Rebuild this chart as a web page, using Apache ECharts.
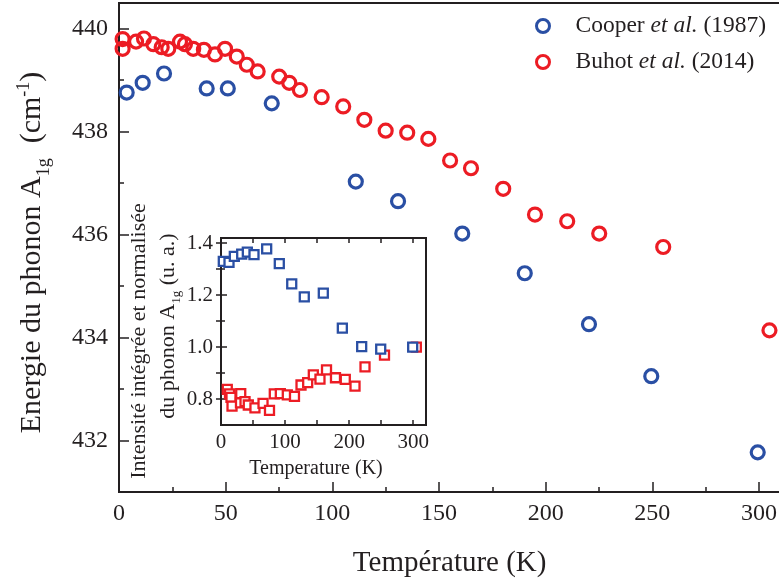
<!DOCTYPE html>
<html>
<head>
<meta charset="utf-8">
<script src="https://cdn.jsdelivr.net/npm/echarts@6/dist/echarts.min.js"></script>
<style>
  html, body { margin: 0; padding: 0; background: #fff; }
  #chart { width: 779px; height: 582px; }
</style>
</head>
<body>
<div id="chart"></div>
<script>
// ---- Main panel data (Energy of A1g phonon, cm^-1) ----
const cooperT = [3.6, 11.1, 21.1, 41.1, 51.0, 71.6, 111.0, 130.8, 160.9, 190.2, 220.3, 249.5, 299.4];
const cooperE = [438.76, 438.95, 439.13, 438.84, 438.84, 438.55, 437.03, 436.65, 436.02, 435.25, 434.26, 433.25, 431.77];

const buhotT = [1.7, 1.7, 8.0, 11.7, 16.1, 20.0, 23.1, 28.6, 30.9, 34.8, 39.8, 45.0, 49.7, 55.2, 59.9, 65.0,
                75.1, 79.8, 84.8, 95.0, 105.1, 115.0, 125.0, 135.1, 145.0, 155.2, 165.0, 180.1, 195.0, 210.1, 225.1, 255.1, 304.9];
const buhotE = [439.80, 439.61, 439.75, 439.81, 439.70, 439.64, 439.61, 439.75, 439.70, 439.61, 439.59, 439.50, 439.61, 439.46, 439.30, 439.17,
                439.07, 438.95, 438.81, 438.67, 438.49, 438.23, 438.02, 437.98, 437.86, 437.44, 437.29, 436.89, 436.39, 436.26, 436.02, 435.76, 434.14];

// ---- Inset data (normalised integrated intensity, a.u.) ----
const cooperInsetT = [3.6, 12.5, 20.8, 32.3, 41.1, 51.5, 71.3, 91.0, 110.4, 130.0, 159.7, 189.4, 219.6, 249.3, 299.2];
const cooperInsetI = [1.330, 1.326, 1.349, 1.358, 1.366, 1.356, 1.378, 1.321, 1.243, 1.193, 1.208, 1.073, 1.002, 0.992, 1.000];

const buhotInsetT = [9.8, 13.3, 15.6, 17.2, 30.8, 30.4, 37.5, 42.6, 53.0, 65.6, 75.7, 83.2, 92.6, 103.5, 114.7, 124.9,
                     135.3, 144.1, 154.5, 164.7, 178.7, 194.0, 209.2, 224.8, 255.2, 304.9];
const buhotInsetI = [0.837, 0.820, 0.806, 0.773, 0.821, 0.785, 0.790, 0.777, 0.766, 0.783, 0.756, 0.820, 0.821, 0.816, 0.810, 0.854,
                     0.863, 0.893, 0.877, 0.912, 0.882, 0.876, 0.850, 0.924, 0.969, 1.000];

// ---- Tick values ----
const mainXTicks = [0, 50, 100, 150, 200, 250, 300];
const mainXMinor = [25, 75, 125, 175, 225, 275];
const mainYTicks = [432, 434, 436, 438, 440];
const mainYMinor = [433, 435, 437, 439];
const insetXLabels = [0, 100, 200, 300];
const insetXTicks = [50, 100, 150, 200, 250, 300];
const insetYTicks = [0.8, 1.0, 1.2, 1.4];
const insetYMinor = [0.9, 1.1, 1.3];

const legendNames = ['Cooper', 'Buhot'];
const legendYears = ['(1987)', '(2014)'];

const BLUE = '#2a4fa4';
const RED = '#ec1c24';
const INK = '#231f20';
const FONT = 'Liberation Serif';

function zip(a, b) { return a.map((v, i) => [v, b[i]]); }

const chart = echarts.init(document.getElementById('chart'), null, { renderer: 'canvas' });

const lineStyle = { color: INK, width: 2 };
const tickStyle = { color: INK, width: 1.5 };

function tickOnlyAxis(extra) {
  return Object.assign({
    type: 'value',
    axisLine: { show: false },
    axisLabel: { show: false },
    splitLine: { show: false },
  }, extra);
}

const option = {
  animation: false,
  backgroundColor: '#fff',
  grid: [
    { left: 119, top: 3, width: 661.33, height: 489, show: true, borderColor: INK, borderWidth: 2,
      backgroundColor: 'rgba(0,0,0,0)', containLabel: false, outerBoundsMode: 'none' },
    { left: 221, top: 238, width: 205, height: 187, show: true, borderColor: INK, borderWidth: 2,
      backgroundColor: '#fff', containLabel: false, outerBoundsMode: 'none' }
  ],
  legend: {
    orient: 'vertical',
    left: 535,
    top: 14,
    padding: 0,
    itemWidth: 13,
    itemHeight: 13,
    itemGap: 12,
    selectedMode: false,
    data: [
      { name: 'Cooper', icon: 'circle', itemStyle: { color: 'rgba(0,0,0,0)', borderColor: BLUE, borderWidth: 3, opacity: 1 } },
      { name: 'Buhot', icon: 'circle', itemStyle: { color: 'rgba(0,0,0,0)', borderColor: RED, borderWidth: 3, opacity: 1 } }
    ],
    formatter: function (name) {
      const i = legendNames.indexOf(name);
      return '{g|}{n|' + name + ' }{i|et al.}{n| ' + legendYears[i] + '}';
    },
    textStyle: {
      fontFamily: FONT, fontSize: 23.5, color: INK,
      rich: {
        g: { width: 21 },
        n: { fontFamily: FONT, fontSize: 23.5, color: INK, lineHeight: 24 },
        i: { fontFamily: FONT, fontSize: 23.5, color: INK, fontStyle: 'italic', lineHeight: 24 }
      }
    }
  },
  xAxis: [
    { // main x, major
      gridIndex: 0, type: 'value', position: 'bottom', min: 0, max: 310,
      axisLine: { show: true, onZero: false, lineStyle: lineStyle },
      axisTick: { show: true, inside: true, length: 10, customValues: mainXTicks, lineStyle: tickStyle },
      axisLabel: { show: true, customValues: mainXTicks, margin: 10, fontFamily: FONT, fontSize: 24, color: INK },
      splitLine: { show: false },
      name: 'Température (K)', nameLocation: 'middle', nameGap: 57,
      nameTextStyle: { fontFamily: FONT, fontSize: 29, color: INK }
    },
    tickOnlyAxis({ // main x, minor
      gridIndex: 0, position: 'bottom', min: 0, max: 310,
      axisTick: { show: true, inside: true, length: 5, customValues: mainXMinor, lineStyle: tickStyle }
    }),
    { // inset x
      gridIndex: 1, type: 'value', position: 'bottom', min: 0, max: 320,
      axisLine: { show: true, onZero: false, lineStyle: lineStyle },
      axisTick: { show: true, inside: true, length: 5, customValues: insetXTicks, lineStyle: tickStyle },
      axisLabel: { show: true, customValues: insetXLabels, margin: 7, fontFamily: FONT, fontSize: 21, color: INK },
      splitLine: { show: false },
      name: 'Temperature (K)', nameLocation: 'middle', nameGap: 34,
      nameTextStyle: { fontFamily: FONT, fontSize: 20, color: INK, padding: [0, 15, 0, 0] }
    },
    tickOnlyAxis({ // inset top ticks
      gridIndex: 1, position: 'top', min: 0, max: 320,
      axisTick: { show: true, inside: true, length: 5, customValues: insetXTicks, lineStyle: tickStyle }
    })
  ],
  yAxis: [
    { // main y, major
      gridIndex: 0, type: 'value', position: 'left', min: 431, max: 440.5,
      axisLine: { show: true, onZero: false, lineStyle: lineStyle },
      axisTick: { show: true, inside: true, length: 10, customValues: mainYTicks, lineStyle: tickStyle },
      axisLabel: { show: true, customValues: mainYTicks, margin: 11, fontFamily: FONT, fontSize: 24, color: INK },
      splitLine: { show: false },
      name: '{a|Energie du phonon A}{s|1g}{a|  (cm}{p|-1}{a|)}',
      nameLocation: 'middle', nameGap: 66,
      nameTextStyle: {
        fontFamily: FONT, fontSize: 30, color: INK, padding: [0, 10, 0, 0],
        rich: {
          a: { fontFamily: FONT, fontSize: 30, color: INK, lineHeight: 42 },
          s: { fontFamily: FONT, fontSize: 18, color: INK, lineHeight: 18, verticalAlign: 'bottom' },
          p: { fontFamily: FONT, fontSize: 18, color: INK, lineHeight: 18, verticalAlign: 'top', padding: [4, 0, 0, 0] }
        }
      }
    },
    tickOnlyAxis({ // main y, minor
      gridIndex: 0, position: 'left', min: 431, max: 440.5,
      axisTick: { show: true, inside: true, length: 5, customValues: mainYMinor, lineStyle: tickStyle }
    }),
    { // inset y
      gridIndex: 1, type: 'value', position: 'left', min: 0.7, max: 1.42,
      axisLine: { show: true, onZero: false, lineStyle: lineStyle },
      axisTick: { show: true, inside: true, length: 6, customValues: insetYTicks, lineStyle: tickStyle },
      axisLabel: { show: true, customValues: insetYTicks, margin: 8, fontFamily: FONT, fontSize: 21, color: INK,
                   formatter: function (v) { return Number(v).toFixed(1); } },
      splitLine: { show: false },
      name: '{a|Intensité intégrée et normalisée}{w|}\n{a|du phonon A}{s|1g}{a| (u. a.)}',
      nameLocation: 'middle', nameGap: 38,
      nameTextStyle: {
        fontFamily: FONT, fontSize: 22, color: INK, padding: [0, 0, 0, 11],
        rich: {
          a: { fontFamily: FONT, fontSize: 22, color: INK, lineHeight: 29 },
          w: { width: 30, lineHeight: 29 },
          s: { fontFamily: FONT, fontSize: 13, color: INK, lineHeight: 13, verticalAlign: 'bottom' }
        }
      }
    },
    tickOnlyAxis({ // inset y minor (left)
      gridIndex: 1, position: 'left', min: 0.7, max: 1.42,
      axisTick: { show: true, inside: true, length: 4, customValues: insetYMinor, lineStyle: tickStyle }
    }),
    tickOnlyAxis({ // inset y right ticks
      gridIndex: 1, position: 'right', min: 0.7, max: 1.42,
      axisTick: { show: true, inside: true, length: 5, customValues: insetYTicks.concat(insetYMinor), lineStyle: tickStyle }
    })
  ],
  series: [
    {
      name: 'Cooper', type: 'scatter', xAxisIndex: 0, yAxisIndex: 0,
      symbol: 'circle', symbolSize: 13,
      itemStyle: { color: 'rgba(0,0,0,0)', borderColor: BLUE, borderWidth: 3.2, opacity: 1 },
      emphasis: { disabled: true },
      data: zip(cooperT, cooperE)
    },
    {
      name: 'Buhot', type: 'scatter', xAxisIndex: 0, yAxisIndex: 0,
      symbol: 'circle', symbolSize: 13,
      itemStyle: { color: 'rgba(0,0,0,0)', borderColor: RED, borderWidth: 3.2, opacity: 1 },
      emphasis: { disabled: true },
      data: zip(buhotT, buhotE)
    },
    {
      name: 'Buhot inset', type: 'scatter', xAxisIndex: 2, yAxisIndex: 2,
      symbol: 'rect', symbolSize: 9,
      itemStyle: { color: '#fff', borderColor: RED, borderWidth: 2.3, opacity: 1 },
      emphasis: { disabled: true },
      data: zip(buhotInsetT, buhotInsetI)
    },
    {
      name: 'Cooper inset', type: 'scatter', xAxisIndex: 2, yAxisIndex: 2,
      symbol: 'rect', symbolSize: 9,
      itemStyle: { color: '#fff', borderColor: BLUE, borderWidth: 2.3, opacity: 1 },
      emphasis: { disabled: true },
      data: zip(cooperInsetT, cooperInsetI)
    }
  ]
};

chart.setOption(option);
</script>
</body>
</html>
